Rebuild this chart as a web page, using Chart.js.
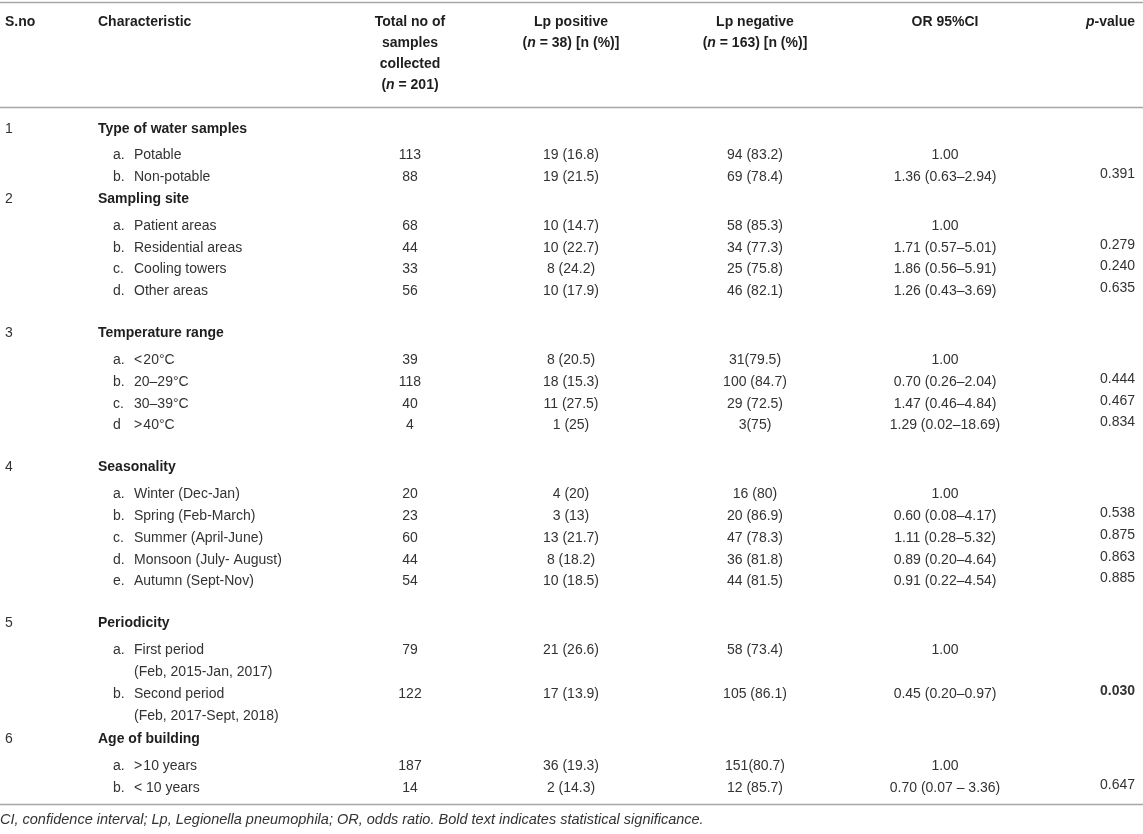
<!DOCTYPE html>
<html>
<head>
<meta charset="utf-8">
<script src="https://cdn.jsdelivr.net/npm/chart.js@4.4.1/dist/chart.umd.min.js"></script>
<style>
  html, body { margin: 0; padding: 0; background: #ffffff; }
  #wrap { width: 1143px; height: 834px; position: relative; }
  canvas { display: block; }
</style>
</head>
<body>
<div id="wrap"><canvas id="tbl" width="1143" height="834"></canvas></div>
<script>
// ---------------- DATA ----------------
// *...* marks italic text
const headerSno = 'S.no';
const headerCharacteristic = 'Characteristic';
const headerTotal = ['Total no of', 'samples', 'collected', '(*n* = 201)'];
const headerLpPositive = ['Lp positive', '(*n* = 38) [n (%)]'];
const headerLpNegative = ['Lp negative', '(*n* = 163) [n (%)]'];
const headerOR = ['OR 95%CI'];
const headerP = ['*p*-value'];

const groupNumbers = ['1', '2', '3', '4', '5', '6'];
const groupNames = ['Type of water samples', 'Sampling site', 'Temperature range', 'Seasonality', 'Periodicity', 'Age of building'];
const groupSizes = [2, 4, 4, 5, 2, 2];

const itemLetters = ['a.', 'b.', 'a.', 'b.', 'c.', 'd.', 'a.', 'b.', 'c.', 'd', 'a.', 'b.', 'c.', 'd.', 'e.', 'a.', 'b.', 'a.', 'b.'];
const itemLabels = [
  'Potable', 'Non-potable',
  'Patient areas', 'Residential areas', 'Cooling towers', 'Other areas',
  '<\u200A20\u00B0C', '20\u201329\u00B0C', '30\u201339\u00B0C', '>\u200A40\u00B0C',
  'Winter (Dec-Jan)', 'Spring (Feb-March)', 'Summer (April-June)', 'Monsoon (July- August)', 'Autumn (Sept-Nov)',
  'First period', 'Second period',
  '>\u200A10 years', '< 10 years'
];
const itemSubLabels = ['', '', '', '', '', '', '', '', '', '', '', '', '', '', '', '(Feb, 2015-Jan, 2017)', '(Feb, 2017-Sept, 2018)', '', ''];

const totalSamples = [113, 88, 68, 44, 33, 56, 39, 118, 40, 4, 20, 23, 60, 44, 54, 79, 122, 187, 14];
const lpPositive = ['19 (16.8)', '19 (21.5)', '10 (14.7)', '10 (22.7)', '8 (24.2)', '10 (17.9)', '8 (20.5)', '18 (15.3)', '11 (27.5)', '1 (25)',
  '4 (20)', '3 (13)', '13 (21.7)', '8 (18.2)', '10 (18.5)', '21 (26.6)', '17 (13.9)', '36 (19.3)', '2 (14.3)'];
const lpNegative = ['94 (83.2)', '69 (78.4)', '58 (85.3)', '34 (77.3)', '25 (75.8)', '46 (82.1)', '31(79.5)', '100 (84.7)', '29 (72.5)', '3(75)',
  '16 (80)', '20 (86.9)', '47 (78.3)', '36 (81.8)', '44 (81.5)', '58 (73.4)', '105 (86.1)', '151(80.7)', '12 (85.7)'];
const oddsRatio = ['1.00', '1.36 (0.63\u20132.94)', '1.00', '1.71 (0.57\u20135.01)', '1.86 (0.56\u20135.91)', '1.26 (0.43\u20133.69)',
  '1.00', '0.70 (0.26\u20132.04)', '1.47 (0.46\u20134.84)', '1.29 (0.02\u201318.69)',
  '1.00', '0.60 (0.08\u20134.17)', '1.11 (0.28\u20135.32)', '0.89 (0.20\u20134.64)', '0.91 (0.22\u20134.54)',
  '1.00', '0.45 (0.20\u20130.97)', '1.00', '0.70 (0.07 \u2013 3.36)'];
const pValues = ['', '0.391', '', '0.279', '0.240', '0.635', '', '0.444', '0.467', '0.834',
  '', '0.538', '0.875', '0.863', '0.885', '', '0.030', '', '0.647'];
const pSignificant = [false, false, false, false, false, false, false, false, false, false,
  false, false, false, false, false, false, true, false, false];

const footnote = 'CI, confidence interval; Lp, Legionella pneumophila; OR, odds ratio. Bold text indicates statistical significance.';

// ---------------- LAYOUT ----------------
const W = 1143, H = 834;
const L = {
  xSno: 5, xGroup: 98, xLetter: 113, xLabel: 134,
  xTotal: 410, xPos: 571, xNeg: 755, xOR: 945, xP: 1135,
  headerY0: 22, headerStep: 21,
  rules: [2, 107, 804],
  firstGroupY: 129, groupToItem: 26.5, itemStep: 21.9,
  extraAfterGroup: [0, 20, 20, 20, 2, 0],
  pShift: -3,
  footY: 820,
  font: '"Liberation Sans", Arial, Helvetica, sans-serif',
  size: 14, footSize: 14.5,
  textColor: '#333333', headColor: '#1e1e1e', ruleColor: '#a6a6a6'
};

// row positions from the table structure
const groupY = [], itemY = [], subY = [];
(function () {
  let y = L.firstGroupY, k = 0;
  groupSizes.forEach((n, g) => {
    groupY.push(y);
    y += L.groupToItem;
    for (let i = 0; i < n; i++, k++) {
      itemY[k] = y;
      y += L.itemStep;
      if (itemSubLabels[k]) { subY[k] = y; y += L.itemStep; } else { subY[k] = null; }
    }
    y += L.extraAfterGroup[g];
  });
})();

// ---------------- DATASETS ----------------
function col(texts, x, ys, opts) {
  const data = [];
  texts.forEach((t, i) => {
    if (t === '' || t === null || ys[i] === null || ys[i] === undefined) return;
    data.push({ x: x, y: ys[i], txt: String(t), bold: opts.boldList ? opts.boldList[i] : opts.bold });
  });
  return Object.assign({ data: data, pointRadius: 0, showLine: false }, opts);
}

const hY = i => L.headerY0 + i * L.headerStep;
const datasets = [
  col([headerSno], L.xSno, [hY(0)], { label: 'hSno', align: 'left', bold: true, head: true }),
  col([headerCharacteristic], L.xGroup, [hY(0)], { label: 'hChar', align: 'left', bold: true, head: true }),
  col(headerTotal, L.xTotal, headerTotal.map((_, i) => hY(i)), { label: 'hTotal', align: 'center', bold: true, head: true }),
  col(headerLpPositive, L.xPos, headerLpPositive.map((_, i) => hY(i)), { label: 'hPos', align: 'center', bold: true, head: true }),
  col(headerLpNegative, L.xNeg, headerLpNegative.map((_, i) => hY(i)), { label: 'hNeg', align: 'center', bold: true, head: true }),
  col(headerOR, L.xOR, [hY(0)], { label: 'hOR', align: 'center', bold: true, head: true }),
  col(headerP, L.xP, [hY(0)], { label: 'hP', align: 'right', bold: true, head: true }),
  col(groupNumbers, L.xSno, groupY, { label: 'sno', align: 'left', bold: false }),
  col(groupNames, L.xGroup, groupY, { label: 'group', align: 'left', bold: true, head: true }),
  col(itemLetters, L.xLetter, itemY, { label: 'letter', align: 'left', bold: false }),
  col(itemLabels, L.xLabel, itemY, { label: 'item', align: 'left', bold: false }),
  col(itemSubLabels, L.xLabel, subY, { label: 'sub', align: 'left', bold: false }),
  col(totalSamples, L.xTotal, itemY, { label: 'total', align: 'center', bold: false }),
  col(lpPositive, L.xPos, itemY, { label: 'pos', align: 'center', bold: false }),
  col(lpNegative, L.xNeg, itemY, { label: 'neg', align: 'center', bold: false }),
  col(oddsRatio, L.xOR, itemY, { label: 'or', align: 'center', bold: false }),
  col(pValues, L.xP, itemY.map(v => v + L.pShift), { label: 'p', align: 'right', boldList: pSignificant }),
  col([footnote], 0, [L.footY], { label: 'foot', align: 'left', bold: false, italicAll: true, size: L.footSize })
];

// ---------------- DRAWING ----------------
function fontStr(italic, bold, size) {
  return (italic ? 'italic ' : '') + (bold ? 'bold ' : '') + size + 'px ' + L.font;
}
function drawRich(ctx, str, x, y, align, bold, italicAll, size, color) {
  const parts = str.split('*').map((t, i) => ({ t: t, it: italicAll || i % 2 === 1 })).filter(p => p.t.length);
  let total = 0;
  parts.forEach(p => { ctx.font = fontStr(p.it, bold, size); p.w = ctx.measureText(p.t).width; total += p.w; });
  let cx = align === 'center' ? x - total / 2 : align === 'right' ? x - total : x;
  ctx.fillStyle = color;
  ctx.textBaseline = 'middle';
  ctx.textAlign = 'left';
  parts.forEach(p => { ctx.font = fontStr(p.it, bold, size); ctx.fillText(p.t, cx, y); cx += p.w; });
}

const tablePlugin = {
  id: 'tablePlugin',
  beforeDatasetsDraw(chart) {
    const ctx = chart.ctx, xs = chart.scales.x, ys = chart.scales.y;
    ctx.save();
    ctx.strokeStyle = L.ruleColor;
    ctx.lineWidth = 1.5;
    L.rules.forEach(r => {
      const py = Math.round(ys.getPixelForValue(r)) + 0.5;
      ctx.beginPath();
      ctx.moveTo(xs.getPixelForValue(0), py);
      ctx.lineTo(xs.getPixelForValue(W), py);
      ctx.stroke();
    });
    ctx.restore();
  },
  afterDatasetsDraw(chart) {
    const ctx = chart.ctx;
    ctx.save();
    chart.data.datasets.forEach((ds, i) => {
      const meta = chart.getDatasetMeta(i);
      meta.data.forEach((el, j) => {
        const cell = ds.data[j];
        drawRich(ctx, cell.txt, el.x, el.y, ds.align, cell.bold, !!ds.italicAll,
          ds.size || L.size, ds.head ? L.headColor : L.textColor);
      });
    });
    ctx.restore();
  }
};

new Chart(document.getElementById('tbl'), {
  type: 'scatter',
  data: { datasets: datasets },
  options: {
    responsive: false,
    animation: false,
    layout: { padding: 0 },
    events: [],
    plugins: { legend: { display: false }, tooltip: { enabled: false } },
    elements: { point: { radius: 0, hoverRadius: 0 } },
    scales: {
      x: { type: 'linear', min: 0, max: W, display: false },
      y: { type: 'linear', min: 0, max: H, reverse: true, display: false }
    }
  },
  plugins: [tablePlugin]
});
</script>
</body>
</html>
